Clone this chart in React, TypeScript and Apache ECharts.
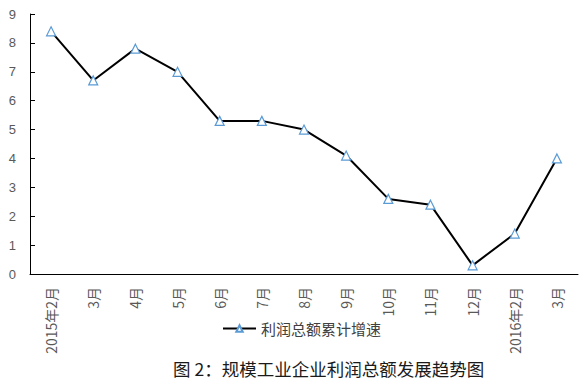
import React, { useEffect, useRef } from "react";
import * as echarts from "echarts";

const categories = ["2015年2月", "3月", "4月", "5月", "6月", "7月", "8月", "9月", "10月", "11月", "12月", "2016年2月", "3月"];
const growth = [8.4, 6.7, 7.8, 7.0, 5.3, 5.3, 5.0, 4.1, 2.6, 2.4, 0.3, 1.4, 4.0];
const seriesName = "利润总额累计增速";
const chartTitle = "图 2：规模工业企业利润总额发展趋势图";

export default function App() {
  const ref = useRef<HTMLDivElement>(null);
  useEffect(() => {
    const chart = echarts.init(ref.current!, undefined, { renderer: "svg" });
    chart.setOption({
      animation: false,
      backgroundColor: "#ffffff",
      grid: { left: 30, right: 8, top: 14, bottom: 107 },
      title: {
        text: chartTitle,
        left: 173,
        top: 360,
        padding: 0,
        textStyle: { fontFamily: "Noto Sans CJK SC", fontSize: 17.5, fontWeight: "normal", color: "#1a1a1a" },
      },
      legend: {
        data: [seriesName],
        left: 222,
        top: 321,
        padding: 0,
        itemWidth: 33,
        itemHeight: 8,
        itemGap: 3,
        textStyle: { fontFamily: "Noto Sans CJK SC", fontSize: 15, color: "#404040" },
      },
      xAxis: {
        type: "category",
        data: categories,
        boundaryGap: true,
        axisLine: { lineStyle: { color: "#000", width: 1 } },
        axisTick: { inside: true, length: 4, lineStyle: { color: "#000" } },
        axisLabel: {
          rotate: 90,
          interval: 0,
          margin: 13,
          color: "#595959",
          fontFamily: "Noto Sans CJK SC",
          fontSize: 14,
        },
      },
      yAxis: {
        type: "value",
        min: 0,
        max: 9,
        interval: 1,
        splitLine: { show: false },
        axisLine: { show: true, lineStyle: { color: "#000", width: 1 } },
        axisTick: { show: true, inside: true, length: 5, lineStyle: { color: "#000" } },
        axisLabel: { color: "#595959", fontFamily: "Liberation Sans", fontSize: 13, margin: 14 },
      },
      series: [
        {
          name: seriesName,
          type: "line",
          data: growth,
          symbol: "triangle",
          symbolSize: 9,
          showAllSymbol: true,
          lineStyle: { color: "#000", width: 2 },
          itemStyle: { color: "#fff", borderColor: "#5B9BD5", borderWidth: 1.2 },
        },
      ],
    });
    return () => chart.dispose();
  }, []);
  return <div ref={ref} style={{ position: "absolute", left: 0, top: 0, width: 586, height: 381 }} />;
}
